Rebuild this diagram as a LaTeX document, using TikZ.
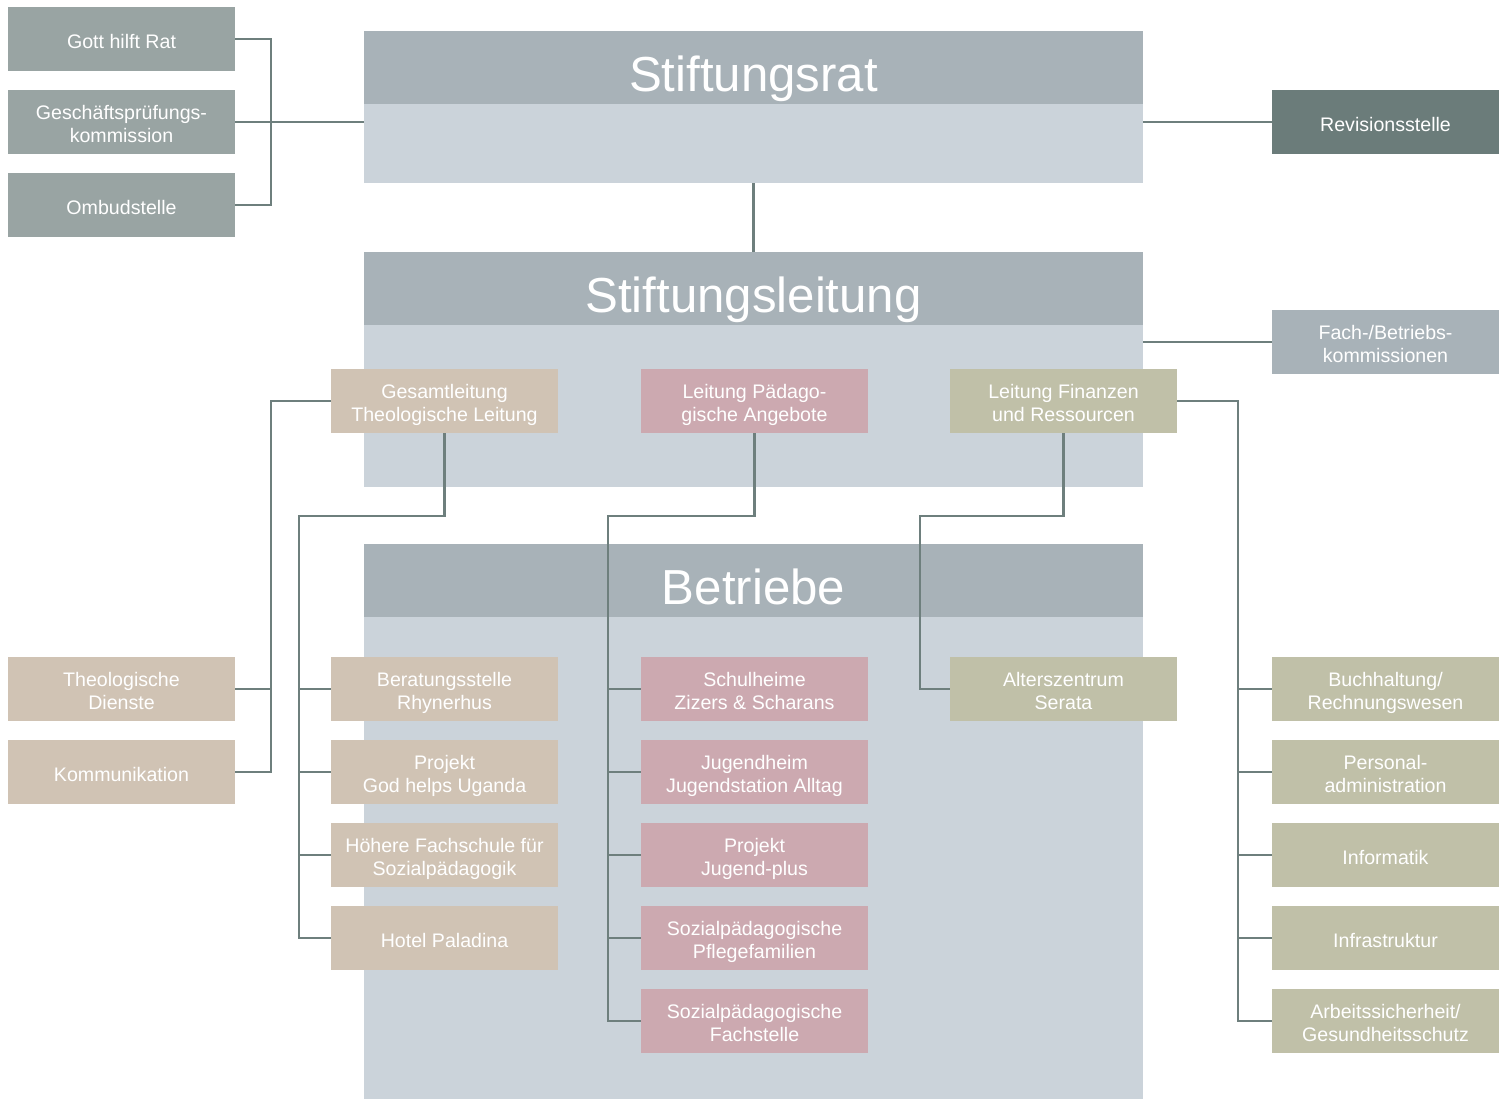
\documentclass[tikz,border=0pt]{standalone}
\usepackage{fontspec}
\setmainfont{Liberation Sans}
\definecolor{hdr}{HTML}{A8B2B8}
\definecolor{bdy}{HTML}{CBD3DA}
\definecolor{gbox}{HTML}{99A4A3}
\definecolor{rbox}{HTML}{6B7C7A}
\definecolor{beige}{HTML}{D0C3B4}
\definecolor{pink}{HTML}{CCA9B0}
\definecolor{olive}{HTML}{C0C0A8}
\definecolor{conn}{HTML}{6E7F7D}
\pgfdeclarelayer{bglayer}
\pgfdeclarelayer{linelayer}
\pgfsetlayers{bglayer,linelayer,main}
\begin{document}
\begin{tikzpicture}[x=0.5pt,y=-0.5pt,
  box/.style={rectangle, inner sep=0pt, minimum width=113.5pt, minimum height=32pt, text=white, align=center, text depth=2.5pt, font=\fontsize{9.8}{11.5}\selectfont},
  boxtext/.style={yshift=-2.25pt},
  gb/.style={box, fill=gbox},
  rb/.style={box, fill=rbox},
  hb/.style={box, fill=hdr},
  bb/.style={box, fill=beige},
  pb/.style={box, fill=pink},
  ob/.style={box, fill=olive},
  block/.style={rectangle, inner sep=0pt, fill=bdy, minimum width=389.5pt},
  head/.style={rectangle, inner sep=0pt, fill=hdr, minimum width=389.5pt, minimum height=36.5pt},
  title/.style={text=white, inner sep=0pt, text depth=5pt, font=\fontsize{24.6}{28}\selectfont},
  line/.style={draw=conn, line width=1.4pt}]
\useasboundingbox (0,0) rectangle (1504,1099);

\begin{pgfonlayer}{bglayer}
\fill[white] (0,0) rectangle (1504,1099);
\node[block, minimum height=76pt] (sr) at (753.5,107) {};
\node[head] (srh) at (753.5,67.5) {};
\node[block, minimum height=117.5pt] (sl) at (753.5,369.5) {};
\node[head] (slh) at (753.5,288.5) {};
\node[block, minimum height=277.5pt] (be) at (753.5,821.5) {};
\node[head] (beh) at (753.5,580.5) {};
\end{pgfonlayer}

\node[title, yshift=-5.5pt] (srt) at (srh) {Stiftungsrat};
\node[title, yshift=-5.5pt] (slt) at (slh) {Stiftungsleitung};
\node[title, yshift=-5.5pt] (bet) at (beh) {Betriebe};

% bus coordinates
\coordinate (tb) at (271,0);
\coordinate (topb) at (271,0);
\coordinate (lb) at (299,516);
\coordinate (mb) at (608,516);
\coordinate (fb) at (920,516);
\coordinate (rbus) at (1238,0);

% boxes
\path
  (121.5,39) node[gb] (gott) {}
  (121.5,122) node[gb] (gpk) {}
  (121.5,205) node[gb] (omb) {}
  (1385.5,122) node[rb] (rev) {}
  (1385.5,342) node[hb] (fach) {}
  (444.5,401) node[bb] (gl) {}
  (754.5,401) node[pb] (lp) {}
  (1063.5,401) node[ob] (lf) {}
  (121.5,689) node[bb] (td) {}
  (121.5,772) node[bb] (kom) {}
  (444.5,689) node[bb] (b1) {}
  (444.5,772) node[bb] (b2) {}
  (444.5,855) node[bb] (b3) {}
  (444.5,938) node[bb] (b4) {}
  (754.5,689) node[pb] (m1) {}
  (754.5,772) node[pb] (m2) {}
  (754.5,855) node[pb] (m3) {}
  (754.5,938) node[pb] (m4) {}
  (754.5,1021) node[pb] (m5) {}
  (1063.5,689) node[ob] (az) {}
  (1385.5,689) node[ob] (r1) {}
  (1385.5,772) node[ob] (r2) {}
  (1385.5,855) node[ob] (r3) {}
  (1385.5,938) node[ob] (r4) {}
  (1385.5,1021) node[ob] (r5) {};

% box labels
\tikzset{lbl/.style={box, boxtext, fill=none, minimum width=0pt, minimum height=0pt}}
\node[lbl] (gott-t) at (gott) {Gott hilft Rat};
\node[lbl] (gpk-t) at (gpk) {Geschäftsprüfungs-\\kommission};
\node[lbl] (omb-t) at (omb) {Ombudstelle};
\node[lbl] (rev-t) at (rev) {Revisionsstelle};
\node[lbl] (fach-t) at (fach) {Fach-/Betriebs-\\kommissionen};
\node[lbl] (gl-t) at (gl) {Gesamtleitung\\Theologische Leitung};
\node[lbl] (lp-t) at (lp) {Leitung Pädago-\\gische Angebote};
\node[lbl] (lf-t) at (lf) {Leitung Finanzen\\und Ressourcen};
\node[lbl] (td-t) at (td) {Theologische\\Dienste};
\node[lbl] (kom-t) at (kom) {Kommunikation};
\node[lbl] (b1-t) at (b1) {Beratungsstelle\\Rhynerhus};
\node[lbl] (b2-t) at (b2) {Projekt\\God helps Uganda};
\node[lbl] (b3-t) at (b3) {Höhere Fachschule für\\Sozialpädagogik};
\node[lbl] (b4-t) at (b4) {Hotel Paladina};
\node[lbl] (m1-t) at (m1) {Schulheime\\Zizers \& Scharans};
\node[lbl] (m2-t) at (m2) {Jugendheim\\Jugendstation Alltag};
\node[lbl] (m3-t) at (m3) {Projekt\\Jugend-plus};
\node[lbl] (m4-t) at (m4) {Sozialpädagogische\\Pflegefamilien};
\node[lbl] (m5-t) at (m5) {Sozialpädagogische\\Fachstelle};
\node[lbl] (az-t) at (az) {Alterszentrum\\Serata};
\node[lbl] (r1-t) at (r1) {Buchhaltung/\\Rechnungswesen};
\node[lbl] (r2-t) at (r2) {Personal-\\administration};
\node[lbl] (r3-t) at (r3) {Informatik};
\node[lbl] (r4-t) at (r4) {Infrastruktur};
\node[lbl] (r5-t) at (r5) {Arbeitssicherheit/\\Gesundheitsschutz};

% connectors
\begin{pgfonlayer}{linelayer}
\draw[line] (gott.east) -| (topb |- gpk.east) |- (omb.east);
\draw[line] (gpk.east) -- (gpk.east -| sr.west);
\draw[line] (rev.west) -- (rev.west -| sr.east);
\draw[line] (sr.south) -- (slh.north);
\draw[line] (fach.west) -- (fach.west -| sl.east);
\draw[line] (gl.west) -| (tb |- kom.east) -- (kom.east);
\draw[line] (td.east) -- (td.east -| tb);
\draw[line] (gl.south) |- (lb) |- (b4.west);
\foreach \n in {b1,b2,b3} \draw[line] (\n.west) -- (\n.west -| lb);
\draw[line] (lp.south) |- (mb) |- (m5.west);
\foreach \n in {m1,m2,m3,m4} \draw[line] (\n.west) -- (\n.west -| mb);
\draw[line] (lf.south) |- (fb) |- (az.west);
\draw[line] (lf.east) -| (rbus |- r5.west) -- (r5.west);
\foreach \n in {r1,r2,r3,r4} \draw[line] (\n.west) -- (\n.west -| rbus);
\end{pgfonlayer}
\end{tikzpicture}
\end{document}
